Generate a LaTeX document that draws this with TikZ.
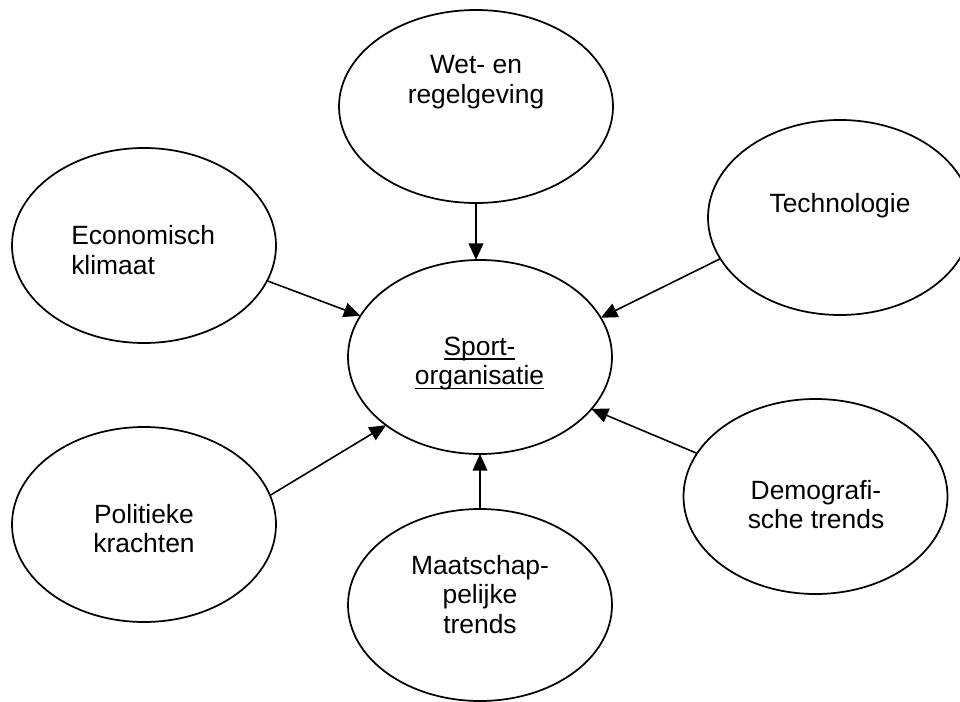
\documentclass[tikz,border=0pt]{standalone}
\usepackage{fontspec}
\setmainfont{Liberation Sans}
\usetikzlibrary{shapes.geometric,arrows.meta}
\newcommand\myul[1]{\setbox0\hbox{#1}\rlap{\rule[-3.6pt]{\wd0}{1.1pt}}\box0}
\tikzset{
  oval/.style={draw, line width=1.3pt, ellipse, inner sep=0pt, outer sep=0pt,
    minimum width=198pt, minimum height=146.25pt},
  lbl/.style={anchor=base, inner sep=0pt, font=\fontsize{19.8}{22}\selectfont},
  arr/.style={line width=1.2pt, -{Triangle[length=12.5pt,width=11pt]}}
}
\begin{document}
\begin{tikzpicture}[x=0.75pt,y=-0.75pt]
\clip (0,0) rectangle (960,702);
\useasboundingbox (0,0) rectangle (960,702);
\node[oval, minimum width=205.5pt, minimum height=144.75pt] (wet) at (476,106.5) {};
\node[oval] (econ) at (144,245.5) {};
\node[oval] (tech) at (840,217.5) {};
\node[oval, minimum height=145.5pt] (sport) at (480,357) {};
\node[oval] (pol) at (144,524.5) {};
\node[oval, minimum height=144pt] (maat) at (480,605) {};
\node[oval] (demo) at (815.5,496.5) {};

\node[lbl] (twet) at (476,74) {\begin{tabular}[t]{@{}c@{}}Wet- en\\regelgeving\end{tabular}};
\node[lbl, anchor=base west] (tecon) at (71,245) {\begin{tabular}[t]{@{}l@{}}Economisch\\klimaat\end{tabular}};
\node[lbl] (ttech) at (840,213) {Technologie};
\node[lbl] (tsport) at (479.5,355) {\begin{tabular}[t]{@{}c@{}}\myul{Sport-}\\\myul{organisatie}\end{tabular}};
\node[lbl] (tpol) at (144,523) {\begin{tabular}[t]{@{}c@{}}Politieke\\krachten\end{tabular}};
\node[lbl] (tmaat) at (480,574.5) {\begin{tabular}[t]{@{}c@{}}Maatschap-\\pelijke\\trends\end{tabular}};
\node[lbl] (tdemo) at (816,499) {\begin{tabular}[t]{@{}c@{}}Demografi-\\sche trends\end{tabular}};

\draw[arr] (wet.south) -- (wet.south |- sport.north);
\draw[arr] (maat.north) -- (sport.south);
\draw[arr] (econ.-16) -- (sport.161);
\draw[arr] (tech.199) -- (sport.18.6);
\draw[arr] (pol.13.4) -- (sport.216.4);
\draw[arr] (demo.160.3) -- (sport.-25.5);
\end{tikzpicture}
\end{document}
